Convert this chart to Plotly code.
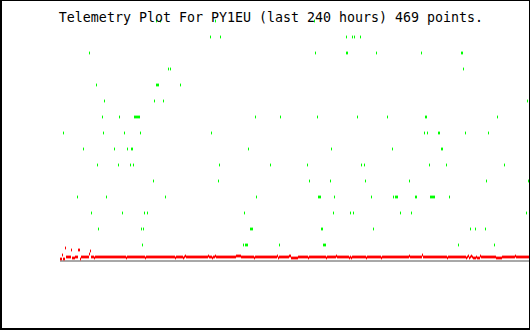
import plotly.graph_objects as go

TITLE = "Telemetry Plot For PY1EU (last 240 hours) 469 points."
N_POINTS = 469

# Red series: (value, run length) read left to right, one sample per column
red_runs = [
    (2, 2), (6, 1), (2, 2), (13, 1), (4, 5), (11, 1), (3, 3), (4, 3), (11, 2), (2, 1),
    (4, 8), (7, 1), (10, 1), (4, 3), (3, 1), (4, 31), (3, 1), (4, 18), (3, 1), (4, 29),
    (3, 1), (4, 7), (3, 1), (4, 1), (5, 1), (4, 22), (5, 1), (4, 3), (3, 1), (4, 2),
    (5, 1), (4, 20), (5, 5), (4, 13), (3, 1), (4, 22), (5, 1), (3, 1), (4, 10), (5, 2),
    (3, 7), (4, 10), (3, 1), (4, 17), (3, 1), (4, 9), (5, 1), (4, 12), (3, 1), (4, 1),
    (3, 1), (4, 14), (3, 1), (4, 14), (3, 1), (4, 27), (5, 1), (4, 12), (6, 1), (4, 24),
    (3, 1), (4, 18), (3, 1), (4, 1), (5, 1), (3, 1), (4, 1), (5, 1), (4, 1), (3, 3),
    (4, 1), (3, 3), (5, 1), (4, 15), (3, 6), (4, 13), (5, 1), (4, 13),
]

# Green series: sample indices at each value level
green_16 = [82, 183, 185, 186, 187, 219, 263, 264, 265, 398, 434]
green_32 = [38, 81, 83, 190, 191, 192, 261, 262, 313, 410, 415, 425]
green_48 = [31, 62, 84, 87, 184, 273, 290, 293, 340, 351, 466]
green_64 = [17, 46, 105, 196, 258, 259, 260, 274, 311, 333, 335, 336, 337, 355, 356,
            370, 371, 372, 373, 374, 389]
green_80 = [93, 158, 249, 270, 305, 349, 426, 468]
green_96 = [37, 58, 70, 73, 159, 210, 247, 301, 304, 369, 386, 444]
green_112 = [23, 54, 67, 71, 72, 188, 271, 332, 381, 382]
green_128 = [3, 43, 64, 80, 151, 364, 367, 378, 379, 405, 428]
green_144 = [42, 59, 74, 75, 76, 77, 78, 79, 195, 220, 257, 297, 327, 365, 366, 437]
green_160 = [44, 94, 103, 467]
green_176 = [36, 96, 97, 98, 120]
green_192 = [108, 110, 403]
green_208 = [29, 255, 286, 287, 316, 361, 401, 402]
green_224 = [150, 160, 286, 292, 294, 300]
green_240 = [96, 100, 155, 254]

green_levels = [16, 32, 48, 64, 80, 96, 112, 128, 144, 160, 176, 192, 208, 224, 240]
green_lists = [green_16, green_32, green_48, green_64, green_80, green_96, green_112,
               green_128, green_144, green_160, green_176, green_192, green_208,
               green_224, green_240]

red_y = []
for v, n in red_runs:
    red_y += [v] * n
red_x = list(range(len(red_y)))

green_x, green_y = [], []
for lvl, idxs in zip(green_levels, green_lists):
    green_x += idxs
    green_y += [lvl] * len(idxs)

W, H = 530, 330
ML, MR, MT, MB = 60, 1, 0, 0
PW = W - ML - MR

def px(xp):
    return (xp - ML) / PW

def py(yp):
    return (H - yp) / H

fig = go.Figure()
fig.add_trace(go.Scatter(
    x=red_x, y=red_y, mode="markers", hoverinfo="skip",
    marker=dict(symbol="line-ns", size=2, color="#ff0000",
                line=dict(width=1, color="#ff0000")),
))
fig.add_trace(go.Scatter(
    x=green_x, y=green_y, mode="markers", hoverinfo="skip",
    marker=dict(symbol="line-ns", size=2, color="#00ff00",
                line=dict(width=1, color="#00ff00")),
))

border = [
    (0, 0, 2, H),      # left
    (0, 0, W, 1),      # top
    (W - 1, 0, W, H),  # right
    (0, H - 2, W, H),  # bottom
]
shapes = []
for x0, y0, x1, y1 in border:
    shapes.append(dict(type="rect", xref="paper", yref="paper",
                       x0=px(x0), x1=px(x1), y0=py(y1), y1=py(y0),
                       line=dict(width=0), fillcolor="#000000", layer="above"))

fig.update_layout(
    width=W, height=H,
    margin=dict(l=ML, r=MR, t=MT, b=MB, pad=0),
    paper_bgcolor="#ffffff", plot_bgcolor="#ffffff",
    showlegend=False,
    title=dict(text=TITLE, x=271 / W, xanchor="center", xref="container",
               y=1 - 17 / H, yanchor="middle", yref="container",
               font=dict(family="DejaVu Sans Mono", size=13.3, color="#000000")),
    xaxis=dict(range=[-0.5, N_POINTS - 0.5], visible=False, zeroline=False,
               showgrid=False, fixedrange=True),
    yaxis=dict(range=[-69, 261], showticklabels=False, showgrid=False,
               showline=False, ticks="", zeroline=True, zerolinecolor="#a8a8a8",
               zerolinewidth=2, fixedrange=True),
    shapes=shapes,
)

fig.write_html("out.html", config={"displayModeBar": False})
